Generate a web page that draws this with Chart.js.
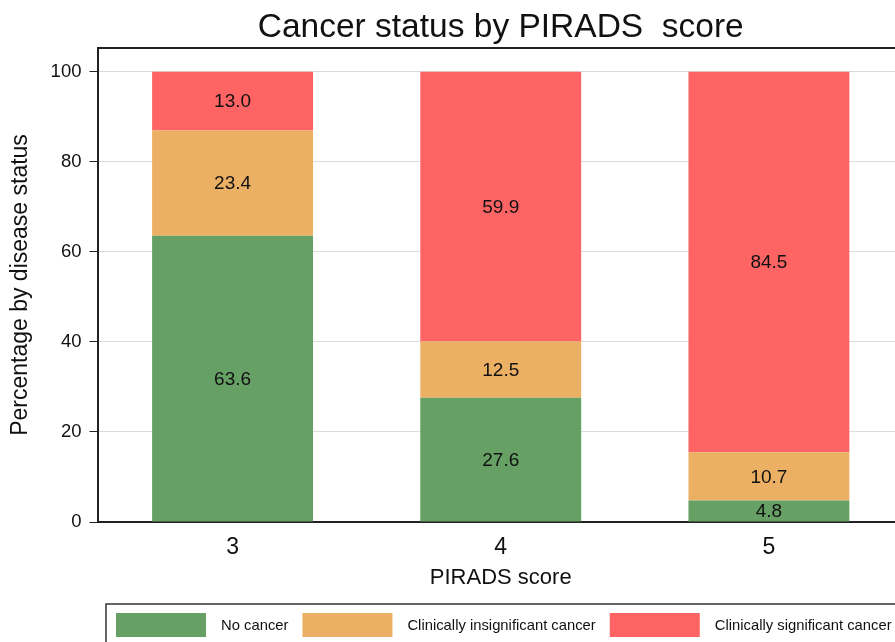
<!DOCTYPE html>
<html>
<head>
<meta charset="utf-8">
<script src="https://cdn.jsdelivr.net/npm/chart.js@4.4.1/dist/chart.umd.min.js"></script>
<style>
    html, body { margin: 0; padding: 0; background: #fff; overflow: hidden; }
    #wrap { width: 895px; height: 642px; overflow: hidden; position: relative; }
    #box { width: 911px; height: 660px; }
</style>
</head>
<body>
<div id="wrap"><div id="box"><canvas id="chart"></canvas></div></div>
<script>
const categories = ['3', '4', '5'];
const noCancer = [63.6, 27.6, 4.8];
const insignificant = [23.4, 12.5, 10.7];
const significant = [13.0, 59.9, 84.5];
const seriesNames = ['No cancer', 'Clinically insignificant cancer', 'Clinically significant cancer'];
const yTicks = [0, 20, 40, 60, 80, 100];
const chartTitle = 'Cancer status by PIRADS  score';

const FONT = "Arial, 'Liberation Sans', sans-serif";

// value labels in the middle of each segment
const barLabels = {
    id: 'barLabels',
    afterDatasetsDraw(chart) {
        const ctx = chart.ctx;
        ctx.save();
        ctx.font = '19px ' + FONT;
        ctx.fillStyle = '#111';
        ctx.textAlign = 'center';
        ctx.textBaseline = 'middle';
        chart.data.datasets.forEach((ds, i) => {
            chart.getDatasetMeta(i).data.forEach((bar, j) => {
                ctx.fillText(ds.data[j].toFixed(1), bar.x, (bar.y + bar.base) / 2 + 1);
            });
        });
        ctx.restore();
    }
};

// title over the plot area, frame (top/right) and boxed legend
const frameLegend = {
    id: 'frameLegend',
    afterDraw(chart) {
        const ctx = chart.ctx;
        const a = chart.chartArea;
        ctx.save();
        ctx.fillStyle = '#111';
        ctx.font = '33.5px ' + FONT;
        ctx.textAlign = 'center';
        ctx.textBaseline = 'alphabetic';
        ctx.fillText(chartTitle, (a.left + a.right) / 2, 37);

        ctx.strokeStyle = '#222';
        ctx.lineWidth = 2;
        ctx.beginPath();
        ctx.moveTo(a.left, a.top);
        ctx.lineTo(a.right, a.top);
        ctx.lineTo(a.right, a.bottom);
        ctx.stroke();

        const top = a.bottom + 82;
        ctx.lineWidth = 1.5;
        ctx.strokeStyle = '#333';
        ctx.strokeRect(106, top, chart.width, 80);

        ctx.font = '14.8px ' + FONT;
        ctx.textAlign = 'left';
        ctx.textBaseline = 'middle';
        let x = 116;
        chart.data.datasets.forEach(ds => {
            ctx.fillStyle = ds.backgroundColor;
            ctx.fillRect(x, top + 9, 90, 24);
            x += 90 + 15;
            ctx.fillStyle = '#111';
            ctx.fillText(ds.label, x, top + 21.5);
            x += ctx.measureText(ds.label).width + 14;
        });
        ctx.restore();
    }
};

new Chart(document.getElementById('chart'), {
    type: 'bar',
    data: {
        labels: categories,
        datasets: [
            { label: seriesNames[0], data: noCancer, backgroundColor: '#66a064' },
            { label: seriesNames[1], data: insignificant, backgroundColor: '#ecb064' },
            { label: seriesNames[2], data: significant, backgroundColor: '#fe6464' }
        ]
    },
    options: {
        responsive: true,
        maintainAspectRatio: false,
        animation: false,
        layout: { padding: { left: 7, right: 8, top: 48, bottom: 69 } },
        datasets: { bar: { barPercentage: 0.6, categoryPercentage: 1 } },
        plugins: {
            legend: { display: false },
            tooltip: { enabled: false },
            title: { display: false }
        },
        scales: {
            x: {
                stacked: true,
                grid: { display: false, drawTicks: false },
                border: { display: true, color: '#222', width: 2 },
                ticks: { color: '#111', font: { family: FONT, size: 23 }, padding: 12 },
                title: {
                    display: true,
                    text: 'PIRADS score',
                    color: '#111',
                    font: { family: FONT, size: 22 },
                    padding: { top: -9, bottom: 0 }
                }
            },
            y: {
                stacked: true,
                min: 0,
                max: 105.3,
                afterBuildTicks: scale => {
                    scale.ticks = yTicks.map(v => ({ value: v }));
                },
                grid: { color: '#dcdcdc', lineWidth: 1, tickColor: '#222', tickLength: 9 },
                border: { display: true, color: '#222', width: 2 },
                ticks: { color: '#111', font: { family: FONT, size: 18.5 }, padding: 8 },
                title: {
                    display: true,
                    text: 'Percentage by disease status',
                    color: '#111',
                    font: { family: FONT, size: 23 },
                    padding: { top: 0, bottom: 8 }
                }
            }
        }
    },
    plugins: [barLabels, frameLegend]
});
</script>
</body>
</html>
